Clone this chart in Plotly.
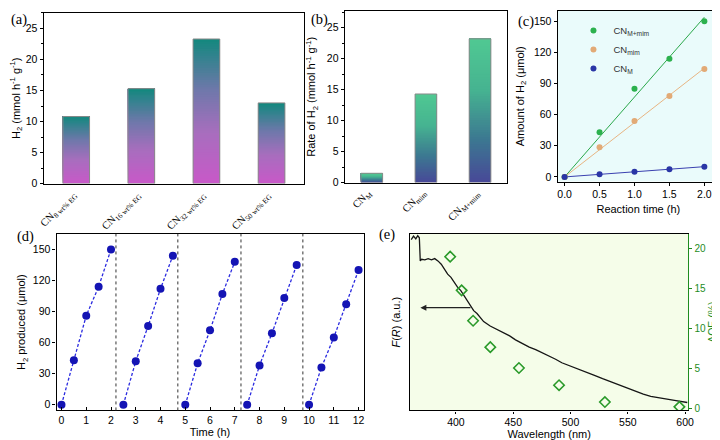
import numpy as np
import plotly.graph_objects as go

# ---------------- data ----------------
a_categories = ["CN<sub>8 wt% EG</sub>", "CN<sub>16 wt% EG</sub>", "CN<sub>32 wt% EG</sub>", "CN<sub>50 wt% EG</sub>"]
a_values = [10.8, 15.3, 23.3, 13.0]

b_categories = ["CN<sub>M</sub>", "CN<sub>mim</sub>", "CN<sub>M+mim</sub>"]
b_values = [1.5, 14.3, 23.2]

c_time = [0.0, 0.5, 1.0, 1.5, 2.0]
c_Mmim = [0, 43, 85, 114, 150]
c_mim = [0, 28.5, 54, 78, 104]
c_M = [0, 2.5, 5, 7.5, 9.8]

d_time = [[0, 0.5, 1, 1.5, 2], [2.5, 3, 3.5, 4, 4.5], [5, 5.5, 6, 6.5, 7],
          [7.5, 8, 8.5, 9, 9.5], [10, 10.5, 11, 11.5, 12]]
d_h2 = [[0, 43, 86, 114, 150], [0, 42, 76, 112, 144], [0, 40, 72, 107, 138],
        [0, 38, 69, 103, 135], [0, 36, 65, 97, 130]]
d_separators = [2.2, 4.7, 7.25, 9.75]

e_wavelength = [361, 363, 365, 366.7, 368.1, 368.9, 370.1, 372.9, 375.8, 378.7, 381.5, 384.3,
                387.2, 390, 392.8, 395.7, 398.5, 401.4, 404.3, 407.1, 409.9, 412.8, 415.5,
                418.4, 420.5, 424.2, 429.9, 435.5, 441, 446.9, 452, 458.3, 464, 469.6, 475,
                481.1, 487, 492.4, 500, 506.7, 514, 520.9, 528, 535.1, 542, 549.4, 556,
                563.5, 570, 577.8, 585, 592, 601.9]
e_FR = [0.968, 0.987, 0.972, 0.990, 0.978, 0.847, 0.856, 0.853, 0.860, 0.853, 0.860, 0.847,
        0.828, 0.800, 0.772, 0.754, 0.726, 0.698, 0.679, 0.651, 0.623, 0.587, 0.565,
        0.549, 0.530, 0.503, 0.478, 0.460, 0.440, 0.422, 0.400, 0.378, 0.359, 0.344, 0.328,
        0.307, 0.290, 0.270, 0.252, 0.236, 0.218, 0.199, 0.180, 0.162, 0.144, 0.126, 0.110,
        0.093, 0.080, 0.070, 0.062, 0.056, 0.045]
e_aqe_wl = [395, 405, 415, 430, 455, 490, 530, 595]
e_aqe = [19.0, 14.8, 11.0, 7.7, 5.1, 2.95, 0.85, 0.25]

# ---------------- helpers ----------------
def lerp_color(stops, t):
    for (t0, c0), (t1, c1) in zip(stops[:-1], stops[1:]):
        if t <= t1:
            f = 0 if t1 == t0 else (t - t0) / (t1 - t0)
            c = [round(c0[k] + (c1[k] - c0[k]) * f) for k in range(3)]
            return f"rgb({c[0]},{c[1]},{c[2]})"
    c = stops[-1][1]
    return f"rgb({c[0]},{c[1]},{c[2]})"

A_STOPS = [(0.0, (200, 88, 200)), (0.35, (168, 110, 190)), (0.65, (110, 120, 170)), (1.0, (18, 136, 126))]
B_STOPS = [(0.0, (72, 72, 152)), (0.3, (60, 120, 145)), (0.65, (70, 180, 145)), (1.0, (80, 200, 146))]
NSEG = 60

def gradient_bar(cats, vals, stops, xa, ya, width):
    xs, bases, ys, cols = [], [], [], []
    for i in range(NSEG):
        t = (i + 0.5) / NSEG
        for c, v in zip(cats, vals):
            xs.append(c)
            bases.append(v * i / NSEG)
            ys.append(v * (NSEG - i) / NSEG)
            cols.append(lerp_color(stops, t))
    seg = go.Bar(x=xs, y=ys, base=bases, width=width, marker=dict(color=cols, line=dict(width=0)),
                 xaxis=xa, yaxis=ya, showlegend=False, hoverinfo="skip")
    outline = go.Bar(x=cats, y=vals, base=[0] * len(vals), width=width,
                     marker=dict(color="rgba(0,0,0,0)", line=dict(color="#8a8a8a", width=1)),
                     xaxis=xa, yaxis=ya, showlegend=False)
    return [seg, outline]

fig = go.Figure()
for tr in gradient_bar(a_categories, a_values, A_STOPS, "x", "y", 0.41):
    fig.add_trace(tr)
for tr in gradient_bar(b_categories, b_values, B_STOPS, "x2", "y2", 0.4):
    fig.add_trace(tr)

# ---- (c)
c_series = [("CN<sub>M+mim</sub>", c_Mmim, "#2cb14e", "#2aa84a"),
            ("CN<sub>mim</sub>", c_mim, "#e2aa76", "#e8b583"),
            ("CN<sub>M</sub>", c_M, "#2a36a6", "#3a40b0")]
t_arr = np.array(c_time)
for name, vals, mcol, lcol in c_series:
    v = np.array(vals, dtype=float)
    slope = float((t_arr * v).sum() / (t_arr ** 2).sum())
    fit_x = [c_time[0], c_time[-1]]
    fig.add_trace(go.Scatter(x=fit_x, y=[slope * x for x in fit_x], mode="lines",
                             line=dict(color=lcol, width=1), xaxis="x3", yaxis="y3",
                             showlegend=False, hoverinfo="skip"))
for name, vals, mcol, lcol in c_series:
    fig.add_trace(go.Scatter(x=c_time, y=vals, mode="markers", name=name,
                             marker=dict(color=mcol, size=6), xaxis="x3", yaxis="y3"))

# ---- (d)
dx, dy = [], []
for ts, hs in zip(d_time, d_h2):
    dx += ts + [None]
    dy += hs + [None]
fig.add_trace(go.Scatter(x=dx, y=dy, mode="lines+markers", connectgaps=False,
                         line=dict(color="#2a2ae0", width=1.3, dash="3px,2px"),
                         marker=dict(color="#1414b4", size=8),
                         xaxis="x4", yaxis="y4", showlegend=False))

# ---- (e)
fig.add_trace(go.Scatter(x=e_wavelength, y=e_FR, mode="lines", line=dict(color="#151515", width=1.3),
                         xaxis="x5", yaxis="y5", showlegend=False))
fig.add_trace(go.Scatter(x=e_aqe_wl, y=e_aqe, mode="markers",
                         marker=dict(symbol="diamond-open", color="#2a9a2a", size=8, line=dict(width=1.6)),
                         xaxis="x5", yaxis="y6", showlegend=False))

# ---------------- layout ----------------
W, H = 720, 440
def dx_(p0, p1):
    return [p0 / W, p1 / W]
def dy_(p_top, p_bot):
    return [1 - p_bot / H, 1 - p_top / H]

SANS = "Liberation Sans, Arial, sans-serif"
SERIF = "Liberation Serif, Times New Roman, serif"
TF = dict(family=SANS, size=10.5, color="black")
TITF = dict(family=SANS, size=11, color="black")

def box(**kw):
    d = dict(showline=True, linecolor="black", linewidth=1.2, mirror=True, zeroline=False,
             showgrid=False, tickfont=TF, ticks="outside", ticklen=3, tickcolor="black")
    d.update(kw)
    return d

layout = dict(
    width=W, height=H, margin=dict(l=0, r=0, t=0, b=0),
    paper_bgcolor="white", plot_bgcolor="white", barmode="overlay",
    xaxis=box(domain=dx_(35, 298), anchor="y", range=[-0.5, 3.5], type="category",
              ticks="", showticklabels=False),
    yaxis=box(domain=dy_(5, 178), anchor="x", range=[0, 27.5], dtick=5,
              minor=dict(ticks="outside", dtick=2.5, ticklen=2, tickcolor="black"),
              title=dict(text="H<sub>2</sub> (mmol h<sup>-1</sup> g<sup>-1</sup>)", font=TITF, standoff=10)),
    xaxis2=box(domain=dx_(339, 503), anchor="y2", range=[-0.5, 2.5], type="category",
               ticks="", showticklabels=False),
    yaxis2=box(domain=dy_(3, 177), anchor="x2", range=[0, 27.7], dtick=5,
               minor=dict(ticks="outside", dtick=2.5, ticklen=2, tickcolor="black"),
               title=dict(text="Rate of H<sub>2</sub> (mmol h<sup>-1</sup> g<sup>-1</sup>)", font=TITF, standoff=8)),
    xaxis3=box(domain=dx_(554, 717), anchor="y3", range=[-0.1, 2.21], dtick=0.5, tickformat=".1f",
               title=dict(text="Reaction time (h)", font=TITF, standoff=6)),
    yaxis3=box(domain=dy_(3, 176), anchor="x3", range=[-4.5, 160], dtick=30,
               title=dict(text="Amount of H<sub>2</sub> (μmol)", font=TITF, standoff=7)),
    xaxis4=box(domain=dx_(48, 358), anchor="y4", range=[-0.2, 12.2], dtick=1, ticks="inside",
               title=dict(text="Time (h)", font=TITF, standoff=2)),
    yaxis4=box(domain=dy_(229, 408), anchor="x4", range=[-5.5, 165], dtick=30,
               title=dict(text="H<sub>2</sub> produced (μmol)", font=TITF, standoff=4)),
    xaxis5=box(domain=dx_(405, 686), anchor="y5", range=[360, 602.8], dtick=50, ticklen=2,
               title=dict(text="Wavelength (nm)", font=TITF, standoff=0)),
    yaxis5=box(domain=dy_(229, 408), anchor="x5", range=[0, 1], showticklabels=False, ticks="",
               mirror=False,
               title=dict(text="<i>F</i>(<i>R</i>) (a.u.)", font=TITF, standoff=6)),
    yaxis6=dict(domain=dy_(229, 408), anchor="x5", overlaying="y5", side="right", range=[-0.2, 21.85],
                dtick=5, showline=True, linecolor="#1e8c1e", linewidth=1.2, ticks="outside", ticklen=3,
                tickcolor="#1e8c1e", tickfont=dict(family=SANS, size=10, color="#1e8c1e"),
                showgrid=False, zeroline=False,
                title=dict(text="AQE (%)", font=dict(family=SANS, size=10.5, color="#1e8c1e"), standoff=2)),
    legend=dict(x=570 / W, y=1 - 8 / H, xanchor="left", yanchor="top", bgcolor="rgba(0,0,0,0)",
                font=dict(family=SANS, size=9.5, color="#333"), tracegroupgap=0, itemwidth=30),
)
fig.update_layout(**layout)

# rotated category labels for (a) and (b)
for cats, xa, ya in [(a_categories, "x", "y"), (b_categories, "x2", "y2")]:
    for c in cats:
        fig.add_annotation(x=c, y=0, xref=xa, yref=ya, text=c, textangle=-45, showarrow=False,
                           xanchor="right", yanchor="top", xshift=6, yshift=-2,
                           font=dict(family=SERIF, size=10.5, color="black"))

# plot backgrounds for (c) and (e)
fig.add_shape(type="rect", xref="x3 domain", yref="y3 domain", x0=0, x1=1, y0=0, y1=1,
              fillcolor="#eafbfb", line=dict(width=0), layer="below")
fig.add_shape(type="rect", xref="x5 domain", yref="y5 domain", x0=0, x1=1, y0=0, y1=1,
              fillcolor="#f5fde9", line=dict(width=0), layer="below")

# separators in (d)
for xs in d_separators:
    fig.add_shape(type="line", xref="x4", yref="y4 domain", x0=xs, x1=xs, y0=0, y1=1,
                  line=dict(color="#333", width=1, dash="dot"))

# arrow in (e)
fig.add_annotation(x=369, y=0.582, ax=414, ay=0.582, xref="x5", yref="y5", axref="x5", ayref="y5",
                   text="", showarrow=True, arrowhead=2, arrowsize=1, arrowwidth=1.2, arrowcolor="#222")

# panel labels
for txt, px, py in [("(a)", 0, 1), ("(b)", 303, 1), ("(c)", 512, 3), ("(d)", 6, 221), ("(e)", 372, 219)]:
    fig.add_annotation(text=txt, x=px / W, y=1 - py / H, xref="paper", yref="paper",
                       xanchor="left", yanchor="top", showarrow=False,
                       font=dict(family=SERIF, size=14.5, color="black"))

fig.write_html("out.html")
